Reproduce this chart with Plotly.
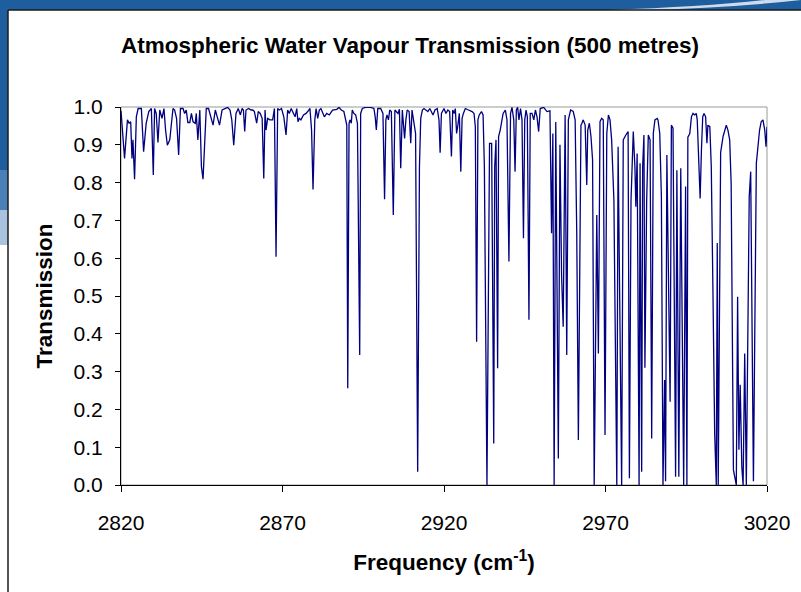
import plotly.graph_objects as go

# transmission spectrum (cm-1, transmission)
freq = [
    2820.0, 2821.1, 2822.0, 2822.5, 2823.0, 2823.4, 2823.7, 2824.2, 2824.75, 2825.3,
    2826.3, 2827.0, 2827.8, 2828.6, 2829.4, 2830.0, 2830.4, 2830.9, 2831.45, 2832.0,
    2832.7, 2833.3, 2833.8, 2834.35, 2835.1, 2835.6, 2836.1, 2836.6, 2837.2, 2837.85,
    2838.4, 2839.2, 2839.7, 2840.2, 2840.7, 2841.3, 2841.8, 2842.3, 2843.0, 2843.3,
    2843.8, 2844.4, 2844.9, 2845.4, 2845.9, 2846.4, 2847.1, 2847.7, 2848.5, 2849.2,
    2849.8, 2850.5, 2851.3, 2852.1,
    2853.0, 2853.75, 2854.3, 2854.9, 2855.6, 2856.3, 2856.95, 2857.5, 2857.9, 2858.3,
    2858.7, 2859.5, 2860.25, 2860.8, 2861.3, 2862.0, 2862.5, 2863.1, 2863.7, 2864.2,
    2864.6, 2864.9, 2865.4, 2866.1, 2866.95, 2867.5, 2868.0, 2868.5, 2869.0, 2869.7,
    2870.4, 2871.1, 2871.6, 2872.1, 2872.7, 2873.4, 2873.9, 2874.4, 2874.8, 2875.2,
    2875.7, 2876.5, 2877.3, 2877.8, 2878.5, 2879.0, 2879.45, 2880.0, 2880.4, 2880.9,
    2881.4, 2881.9, 2882.4, 2882.95, 2883.7, 2884.5, 2885.5,
    2886.8, 2887.5, 2888.2, 2889.0, 2889.55, 2889.9, 2890.2, 2890.6, 2890.9, 2891.3,
    2891.6, 2892.1, 2892.65, 2893.2, 2893.9, 2894.2, 2894.7, 2895.7, 2897.3, 2898.3,
    2898.7, 2899.05, 2899.5, 2900.4, 2901.1, 2901.6, 2902.0, 2902.35, 2902.8, 2903.2,
    2903.7, 2904.3, 2904.8, 2905.35, 2905.75, 2906.2, 2906.6, 2907.1, 2907.4, 2907.8,
    2908.2, 2908.6, 2909.2, 2909.7, 2910.1, 2910.7, 2911.2, 2911.85, 2912.4, 2912.8,
    2913.3, 2913.8, 2914.5, 2915.0, 2915.6, 2916.1, 2916.6, 2917.2, 2917.9, 2918.45,
    2918.8, 2919.2, 2920.0,
    2920.6, 2921.2, 2921.75, 2922.3, 2922.7, 2923.2, 2923.5, 2923.9, 2924.3, 2924.75,
    2925.2, 2925.6, 2926.0, 2926.6, 2927.6, 2928.7, 2929.3, 2929.7, 2930.1, 2930.5,
    2930.9, 2931.6, 2932.1, 2932.5, 2933.3, 2934.1, 2934.75, 2935.4, 2935.7, 2936.1,
    2936.6, 2936.9, 2937.4, 2937.75, 2938.3, 2939.0, 2939.5, 2940.1, 2940.6, 2941.05,
    2941.6, 2942.0, 2942.4, 2942.8, 2943.2, 2943.7, 2944.15, 2944.6, 2945.0, 2945.4,
    2945.8, 2946.3, 2946.7, 2947.25, 2947.8, 2948.3, 2948.8, 2949.3, 2949.8, 2950.85,
    2951.9, 2952.8,
    2953.3, 2953.7, 2954.1, 2954.6, 2955.4, 2955.9, 2956.4, 2956.9, 2957.5, 2958.0,
    2958.5, 2959.2, 2960.0, 2960.6, 2961.1, 2961.6, 2962.1, 2962.4, 2962.7, 2963.1,
    2963.7, 2964.2, 2964.5, 2965.0, 2965.5, 2966.0, 2966.5, 2967.0, 2967.3, 2967.8,
    2968.3, 2968.8, 2969.3, 2969.85, 2970.4, 2970.9, 2971.4, 2971.9, 2972.6, 2973.5,
    2973.9, 2975.0, 2975.5, 2976.3, 2977.0, 2977.4, 2977.9, 2978.6, 2979.1, 2979.4,
    2979.8, 2980.4, 2980.7, 2981.2, 2981.5, 2981.9, 2982.2, 2982.75, 2983.25, 2983.8,
    2984.3, 2984.8, 2985.3, 2986.0,
    2986.25, 2986.8, 2987.3, 2987.8, 2988.3, 2988.6, 2989.0, 2990.0, 2990.4, 2990.9,
    2991.7, 2992.1, 2992.7, 2993.3, 2994.2, 2994.8, 2995.2, 2995.5, 2996.1, 2996.6,
    2997.1, 2997.6, 2998.1, 2998.4, 2998.85, 2999.3, 2999.7, 3000.1, 3000.5, 3001.0,
    3001.4, 3001.7, 3002.3, 3002.75, 3003.3, 3003.8, 3004.3, 3004.6, 3004.9, 3005.35,
    3005.65, 3006.4, 3006.9, 3007.4, 3007.9, 3008.45, 3008.9, 3009.6, 3010.0, 3010.5,
    3010.9, 3011.3, 3011.7, 3012.2, 3012.6, 3013.1, 3013.6, 3014.5, 3014.95, 3015.8,
    3016.7, 3017.2, 3017.7, 3018.2, 3018.75, 3019.3, 3019.7, 3020.0,
]

trans = [
    0.99, 0.864, 0.966, 0.957, 0.961, 0.864, 0.913, 0.809, 0.974, 0.996,
    0.996, 0.882, 0.957, 0.988, 0.996, 0.820, 0.996, 0.983, 0.906, 0.992,
    0.970, 0.996, 0.939, 0.899, 0.913, 0.961, 0.996, 0.992, 0.970, 0.873,
    0.996, 0.996, 0.983, 0.992, 0.959, 0.959, 0.983, 0.961, 0.957, 0.983,
    0.913, 0.992, 0.842, 0.809, 0.913, 0.996, 0.996, 0.979, 0.952, 0.992,
    0.970, 0.952, 0.992, 0.996,
    0.999, 0.992, 0.966, 0.899, 0.983, 0.996, 0.979, 0.996, 0.992, 0.935,
    0.992, 0.996, 0.992, 0.992, 0.988, 0.957, 0.988, 0.983, 0.970, 0.811,
    0.992, 0.939, 0.970, 0.966, 0.966, 0.996, 0.604, 0.996, 0.992, 0.996,
    0.974, 0.926, 0.992, 0.983, 0.996, 0.983, 0.974, 0.996, 0.961, 0.970,
    0.966, 0.979, 0.983, 0.988, 0.996, 0.939, 0.782, 0.966, 0.996, 0.970,
    0.992, 0.996, 0.983, 0.974, 0.983, 0.979, 0.992,
    0.994, 0.999, 0.992, 0.988, 0.970, 0.952, 0.256, 0.957, 0.966, 0.957,
    0.992, 0.983, 0.979, 0.957, 0.344, 0.983, 0.996, 0.999, 0.999, 0.996,
    0.974, 0.939, 0.996, 0.996, 0.983, 0.756, 0.966, 0.979, 0.966, 0.992,
    0.988, 0.714, 0.992, 0.988, 0.983, 0.994, 0.838, 0.992, 0.966, 0.917,
    0.966, 0.992, 0.988, 0.904, 0.992, 0.957, 0.930, 0.035, 0.842, 0.970,
    0.992, 0.996, 0.992, 0.988, 0.996, 0.988, 0.979, 0.992, 0.996, 0.966,
    0.879, 0.983, 0.996,
    0.983, 0.992, 0.988, 0.869, 0.992, 0.983, 0.996, 0.930, 0.952, 0.983,
    0.829, 0.970, 0.983, 0.996, 0.992, 0.988, 0.983, 0.948, 0.379, 0.966,
    0.979, 0.988, 0.979, 0.842, 0.0, 0.904, 0.904, 0.110, 0.842, 0.913,
    0.309, 0.922, 0.939, 0.957, 0.983, 0.992, 0.966, 0.591, 0.983, 0.999,
    0.966, 0.829, 0.992, 0.999, 0.966, 0.996, 0.966, 0.653, 0.966, 0.992,
    0.974, 0.437, 0.983, 0.983, 0.966, 0.992, 0.974, 0.935, 0.996, 0.999,
    0.988, 0.99,
    0.666, 0.93, 0.0, 0.96, 0.07, 0.90, 0.556, 0.419, 0.979, 0.344,
    0.966, 0.992, 0.988, 0.966, 0.666, 0.119, 0.754, 0.952, 0.957, 0.966,
    0.952, 0.794, 0.939, 0.957, 0.922, 0.860, 0.0, 0.401, 0.714, 0.348,
    0.961, 0.970, 0.966, 0.132, 0.930, 0.979, 0.966, 0.913, 0.754, 0.0,
    0.895, 0.0, 0.913, 0.926, 0.935, 0.018, 0.754, 0.935, 0.842, 0.736,
    0.877, 0.0, 0.851, 0.035, 0.842, 0.926, 0.31, 0.754, 0.926, 0.913,
    0.123, 0.930, 0.966, 0.970,
    0.966, 0.93, 0.763, 0.0, 0.278, 0.01, 0.873, 0.22, 0.952, 0.944,
    0.022, 0.833, 0.022, 0.838, 0.0, 0.79, 0.0, 0.92, 0.93, 0.974,
    0.983, 0.979, 0.983, 0.966, 0.842, 0.758, 0.886, 0.974, 0.983, 0.974,
    0.904, 0.952, 0.948, 0.842, 0.489, 0.137, 0.0, 0.64, 0.0, 0.754,
    0.88, 0.922, 0.939, 0.952, 0.939, 0.913, 0.798, 0.04, 0.022, 0.0,
    0.498, 0.093, 0.265, 0.048, 0.0, 0.348, 0.0, 0.763, 0.829, 0.01,
    0.851, 0.904, 0.939, 0.961, 0.966, 0.939, 0.895, 0.948,
]

x_ticks = [2820, 2870, 2920, 2970, 3020]
y_ticks = [0.0, 0.1, 0.2, 0.3, 0.4, 0.5, 0.6, 0.7, 0.8, 0.9, 1.0]

W, H = 801, 592
L, R, T, B = 121, 34, 107, 107
pw, ph = W - L - R, H - T - B


# helpers to place decoration in pixel terms
def px(p):
    return (p - L) / pw


def py(p):
    return (H - B - p) / ph


font = "Liberation Sans, Arial, sans-serif"

fig = go.Figure()
fig.add_trace(go.Scatter(x=freq, y=trans, mode="lines",
                         line=dict(color="#000080", width=1.3),
                         showlegend=False, hoverinfo="x+y"))

shapes = [
    # slide background (blue header band and left strip)
    dict(type="rect", xref="paper", yref="paper", x0=px(0), x1=px(W), y0=py(10), y1=py(0),
         fillcolor="#1f5e9e", line_width=0, layer="below"),
    dict(type="rect", xref="paper", yref="paper", x0=px(0), x1=px(8), y0=py(170), y1=py(0),
         fillcolor="#1f5e9e", line_width=0, layer="below"),
    dict(type="rect", xref="paper", yref="paper", x0=px(0), x1=px(8), y0=py(210), y1=py(170),
         fillcolor="#4a7fb8", line_width=0, layer="below"),
    dict(type="rect", xref="paper", yref="paper", x0=px(0), x1=px(8), y0=py(245), y1=py(210),
         fillcolor="#a9c3df", line_width=0, layer="below"),
    # light swoosh in the header
    dict(type="path", xref="paper", yref="paper",
         path=f"M {px(610)},{py(10)} Q {px(700)},{py(7)} {px(765)},{py(0)} "
              f"L {px(801)},{py(0)} Q {px(730)},{py(8)} {px(640)},{py(10)} Z",
         fillcolor="rgba(235,242,250,0.85)", line_width=0, layer="below"),
    # chart box border
    dict(type="line", xref="paper", yref="paper", x0=px(8), x1=px(8), y0=py(592), y1=py(10),
         line=dict(color="#1a1a1a", width=1.5), layer="below"),
    dict(type="line", xref="paper", yref="paper", x0=px(8), x1=px(801), y0=py(10), y1=py(10),
         line=dict(color="#1a1a1a", width=1.5), layer="below"),
    # plot area frame (grey top/right)
    dict(type="rect", xref="paper", yref="paper", x0=0, x1=1, y0=0, y1=1,
         line=dict(color="#999999", width=1), layer="below"),
]

fig.update_layout(
    width=W, height=H,
    margin=dict(l=L, r=R, t=T, b=B),
    paper_bgcolor="white", plot_bgcolor="white",
    font=dict(family=font, color="black", size=21),
    title=dict(text="<b>Atmospheric Water Vapour Transmission (500 metres)</b>",
               x=410 / W, xanchor="center", y=1 - 45 / H, yanchor="middle",
               font=dict(size=22.5)),
    shapes=shapes,
    xaxis=dict(range=[2820, 3020], tickvals=x_ticks, ticktext=[str(v) for v in x_ticks],
               showgrid=False, zeroline=False, showline=True, linecolor="black", linewidth=1,
               ticks="outside", ticklen=6, tickcolor="black", ticklabelstandoff=13,
               title=dict(text="<b>Frequency (cm<sup>-1</sup>)</b>", standoff=21,
                          font=dict(size=22.5))),
    yaxis=dict(range=[0, 1], tickvals=y_ticks, ticktext=[f"{v:.1f}" for v in y_ticks],
               showgrid=False, zeroline=False, showline=True, linecolor="black", linewidth=1,
               ticks="outside", ticklen=5, tickcolor="black", ticklabelstandoff=8,
               title=dict(text="<b>Transmission</b>", standoff=14, font=dict(size=22.5))),
)

# the page body has a default margin; drop it so the figure fills the window
fig.write_html("out.html", config={"displayModeBar": False},
               post_script="document.body.style.margin='0';")
